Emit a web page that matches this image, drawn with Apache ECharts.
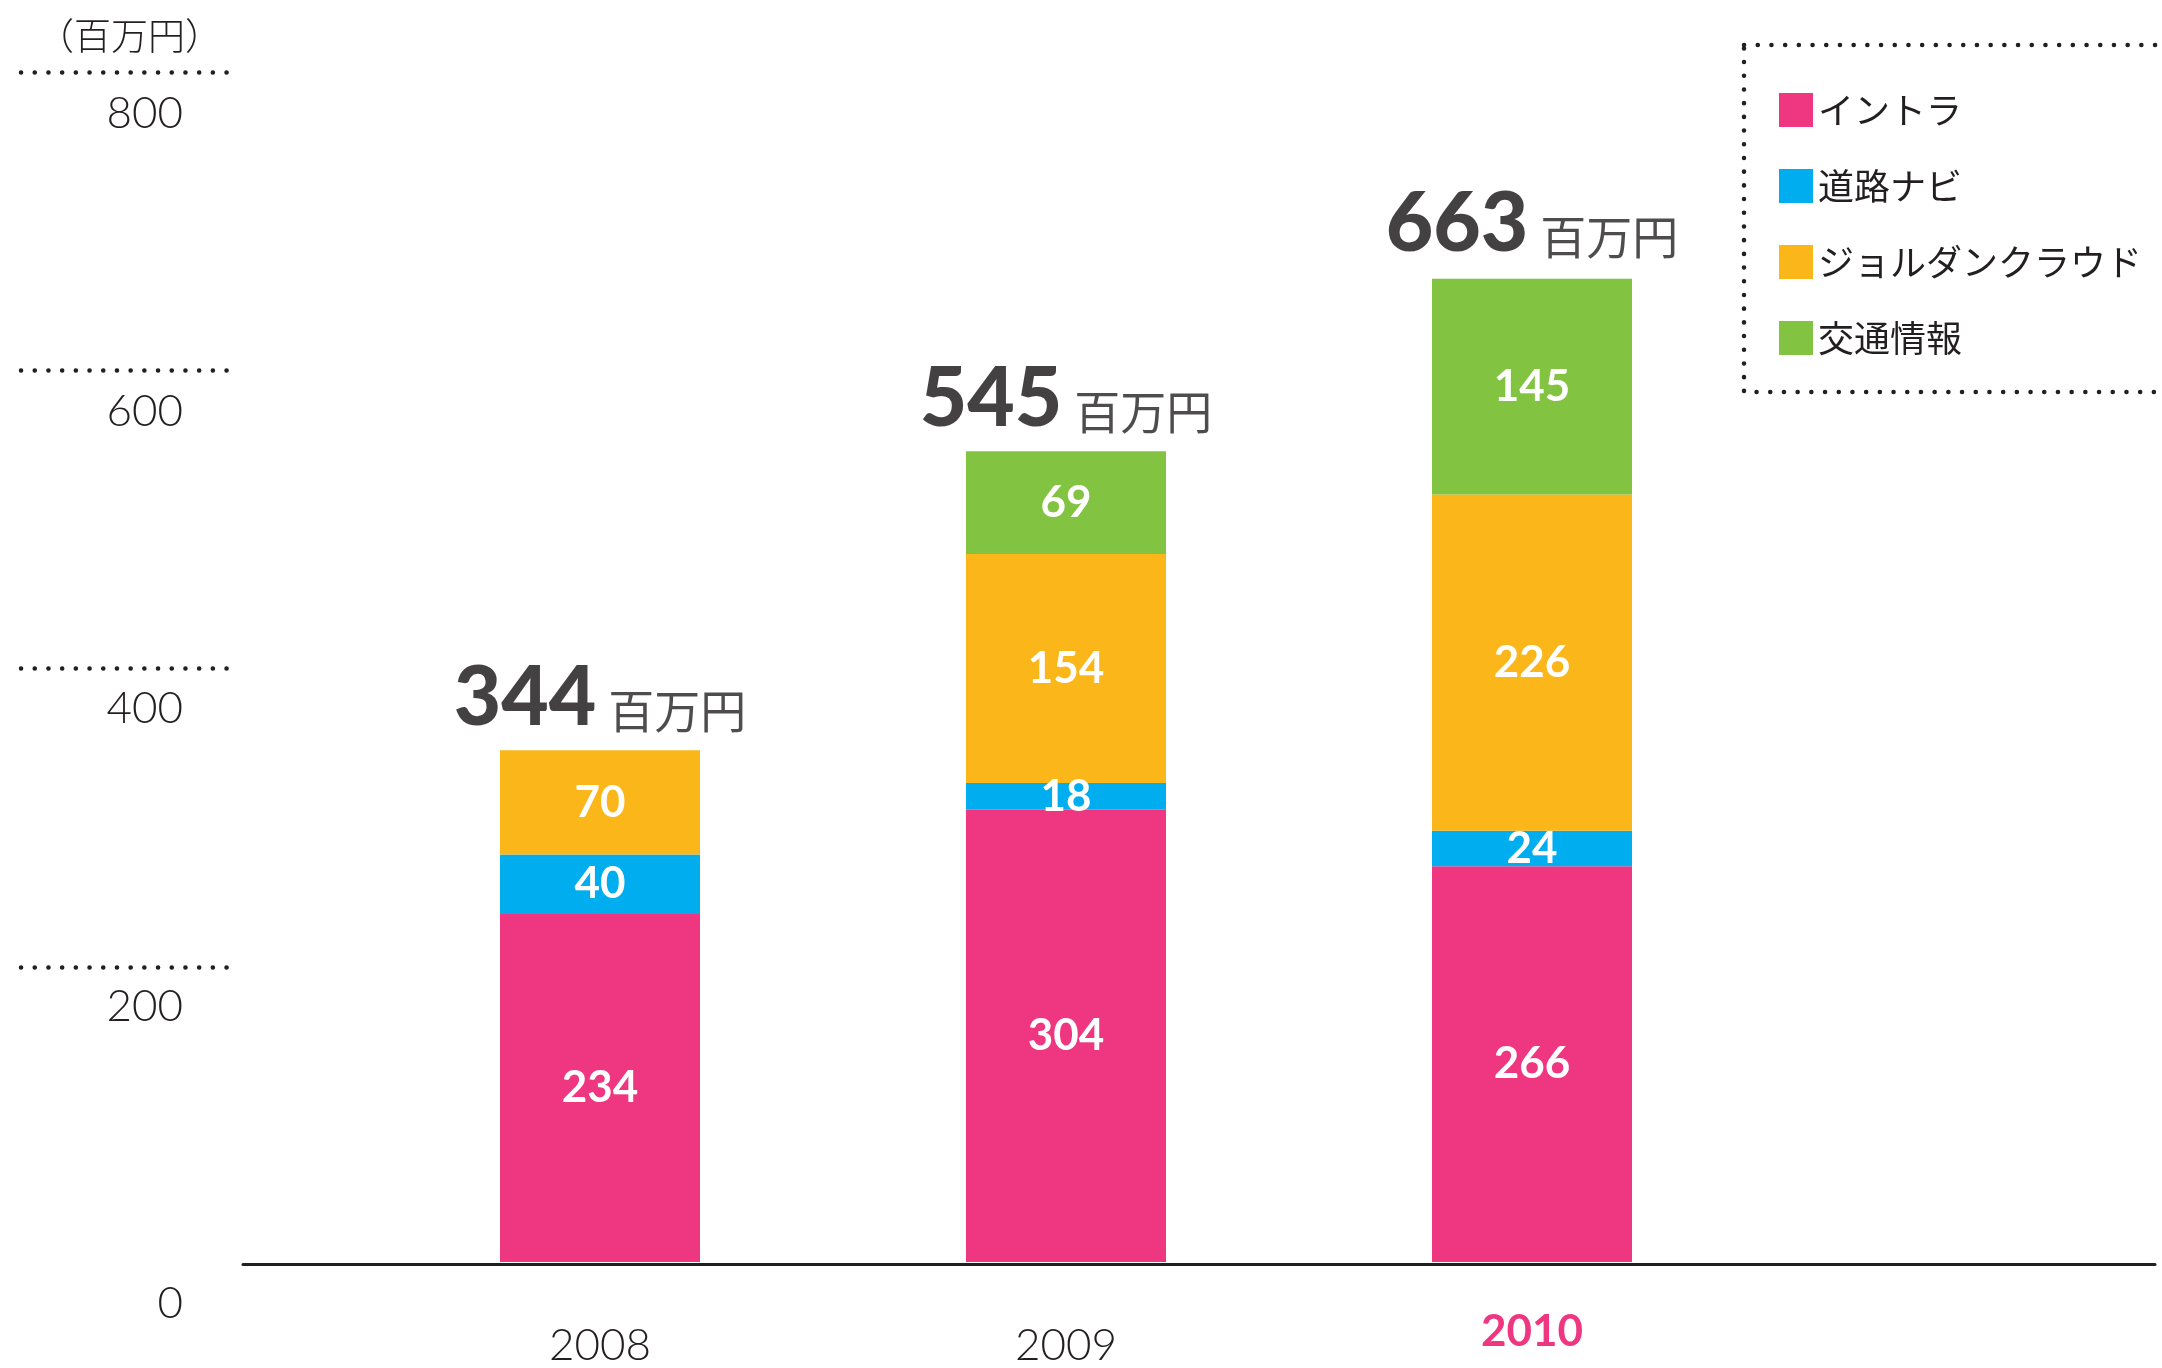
<!DOCTYPE html>
<html>
<head>
<meta charset="utf-8">
<script src="https://cdn.jsdelivr.net/npm/echarts@6/dist/echarts.min.js"></script>
<style>
html,body{margin:0;padding:0;background:#fff;}
#main{width:2162px;height:1368px;}
</style>
</head>
<body>
<div id="main"></div>
<script>
const years = ['2008', '2009', '2010'];
const intra = [234, 304, 266];
const roadNavi = [40, 18, 24];
const jorudanCloud = [70, 154, 226];
const trafficInfo = ['-', 69, 145];
const totals = [344, 545, 663];
const yTicks = [0, 200, 400, 600, 800];
const seriesNames = ['イントラ', '道路ナビ', 'ジョルダンクラウド', '交通情報'];
const colors = ['#EF3781', '#00AEEF', '#FBB619', '#82C341'];

const TXT = '#231F20';
const NUM_FONT = 'Lato, "Noto Sans", sans-serif';
const JP_FONT = '"Noto Sans CJK JP", "Noto Sans", sans-serif';
const BAR_LABEL_FONT = 'Lato, "Noto Sans", sans-serif';

const chart = echarts.init(document.getElementById('main'), null, {renderer: 'canvas'});

function barSeries(name, data, color) {
  return {
    name: name, type: 'bar', stack: 'total', xAxisIndex: 0, yAxisIndex: 0,
    data: data, barWidth: 200,
    itemStyle: {color: color},
    label: {
      show: true, position: 'inside', color: '#fff',
      fontFamily: BAR_LABEL_FONT, fontWeight: 'bold', fontSize: 44
    }
  };
}

const option = {
  backgroundColor: '#fff',
  animation: false,
  title: {
    text: '（百万円）', left: 32, top: 12,
    textStyle: {fontFamily: JP_FONT, fontWeight: 300, fontSize: 37, color: TXT}
  },
  legend: {
    orient: 'vertical', left: 1779, top: 92, padding: 0,
    itemWidth: 34, itemHeight: 34, itemGap: 40, icon: 'rect',
    data: seriesNames,
    textStyle: {fontFamily: JP_FONT, fontWeight: 'normal', fontSize: 36, color: TXT}
  },
  graphic: [{
    type: 'rect', silent: true,
    shape: {x: 1744, y: 45, width: 600, height: 347},
    style: {fill: 'none', stroke: TXT, lineWidth: 4.5, lineDash: [0.1, 13.6], lineCap: 'round'}
  }],
  grid: [
    {left: 367, width: 1398, top: 72, bottom: 104},
    {left: 21, width: 209, top: 72, bottom: 401},
    {left: 243, right: 7, top: 72, bottom: 104}
  ],
  xAxis: [
    {
      type: 'category', gridIndex: 0, data: years,
      axisLine: {show: false}, axisTick: {show: false},
      axisLabel: {
        margin: 48, fontFamily: NUM_FONT, fontSize: 44, fontWeight: 300, color: TXT,
        formatter: function (v) { return v === '2010' ? '{hl|' + v + '}' : '{n|' + v + '}'; },
        rich: {
          n: {color: TXT, fontFamily: NUM_FONT, fontWeight: 300, fontSize: 44, padding: [14, 0, 0, 0]},
          hl: {color: '#EF3781', fontFamily: NUM_FONT, fontWeight: 'bold', fontSize: 44, padding: [0, 0, 14, 0]}
        }
      }
    },
    {type: 'value', gridIndex: 1, min: 0, max: 1, show: false},
    {
      type: 'value', gridIndex: 2, min: 0, max: 1,
      axisLine: {show: true, lineStyle: {color: TXT, width: 3}},
      axisTick: {show: false}, axisLabel: {show: false}, splitLine: {show: false}
    }
  ],
  yAxis: [
    {
      type: 'value', gridIndex: 0, min: yTicks[0], max: yTicks[yTicks.length - 1], interval: 200,
      axisLine: {show: false}, axisTick: {show: false}, splitLine: {show: false},
      axisLabel: {
        margin: 184, fontFamily: NUM_FONT, fontSize: 44, fontWeight: 300, color: TXT,
        verticalAlign: 'top', lineHeight: 44, padding: [20, 0, 0, 0]
      }
    },
    {
      type: 'value', gridIndex: 1, min: 200, max: 800, interval: 200,
      axisLine: {show: false}, axisTick: {show: false}, axisLabel: {show: false},
      splitLine: {show: true, lineStyle: {color: TXT, width: 4.5, type: [0.1, 13.6], cap: 'round'}}
    },
    {type: 'value', gridIndex: 2, min: 0, max: 1, show: false}
  ],
  series: [
    barSeries(seriesNames[0], intra, colors[0]),
    barSeries(seriesNames[1], roadNavi, colors[1]),
    barSeries(seriesNames[2], jorudanCloud, colors[2]),
    barSeries(seriesNames[3], trafficInfo, colors[3]),
    {
      name: 'total', type: 'scatter', xAxisIndex: 0, yAxisIndex: 0,
      data: totals, symbolSize: 1, itemStyle: {color: 'rgba(0,0,0,0)'},
      silent: true, legendHoverLink: false,
      label: {
        show: true, position: 'top', distance: 10,
        formatter: function (p) { return '{n|' + p.value + '}{u|百万円}'; },
        rich: {
          n: {fontFamily: NUM_FONT, fontWeight: 900, fontSize: 82, color: '#151213', verticalAlign: 'bottom', lineHeight: 80},
          u: {fontFamily: JP_FONT, fontWeight: 'normal', fontSize: 46, color: TXT, verticalAlign: 'bottom', padding: [0, 0, 6, 12], lineHeight: 46}
        }
      }
    }
  ]
};
chart.setOption(option);
</script>
</body>
</html>
